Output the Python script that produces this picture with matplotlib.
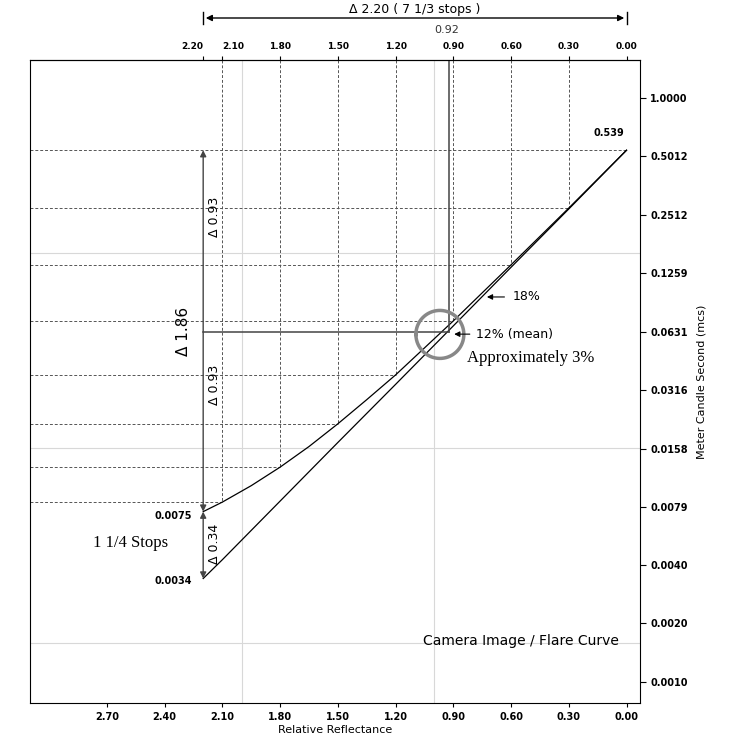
import numpy as np
import matplotlib
matplotlib.use("Agg")
import matplotlib.pyplot as plt

# data
flare_density = [0.0, 0.30, 0.60, 0.90, 1.05, 1.20, 1.35, 1.50, 1.65, 1.80, 1.95, 2.10, 2.20]
flare_mcs = [0.539, 0.272, 0.139, 0.0716, 0.0520, 0.0378, 0.0282, 0.0212, 0.0162, 0.0127, 0.0102, 0.0084, 0.0075]
image_density = [0.0, 0.30, 0.60, 0.90, 1.20, 1.50, 1.80, 2.10, 2.20]
image_mcs = [0.539, 0.269, 0.135, 0.0675, 0.0338, 0.0170, 0.0085, 0.00425, 0.0034]
bottom_ticks = [2.70, 2.40, 2.10, 1.80, 1.50, 1.20, 0.90, 0.60, 0.30, 0.00]
top_ticks = [2.20, 2.10, 1.80, 1.50, 1.20, 0.90, 0.60, 0.30, 0.00]
guide_density = [0.0, 0.30, 0.60, 0.90, 1.20, 1.50, 1.80, 2.10]
guide_mcs = [0.539, 0.272, 0.139, 0.0716, 0.0378, 0.0212, 0.0127, 0.0084]
right_ticks = [1.0, 0.5012, 0.2512, 0.1259, 0.0631, 0.0316, 0.0158, 0.0079, 0.0040, 0.0020, 0.0010]
mean_density, mean_mcs = 0.92, 0.0631
pt18_density, pt18_mcs = 0.74, 0.095

fig = plt.figure(figsize=(7.41, 7.41), dpi=100)
ax = fig.add_axes([30/741, 38/741, 610/741, 643/741])
ax.set_yscale('log')
ax.set_xlim(3.10, -0.07)
ax.set_ylim(10**-3.108, 10**0.195)

for xv in [2.0, 1.0]:
    ax.axvline(xv, color='#d8d8d8', lw=0.8, zorder=0)
for yv in [10**-0.796, 10**-1.8, 10**-2.8]:
    ax.axhline(yv, color='#d8d8d8', lw=0.8, zorder=0)

ytop = 10**0.195
for d, m in zip(guide_density, guide_mcs):
    ax.plot([3.10, d], [m, m], ls=(0, (3, 2)), color='#555555', lw=0.7)
    if d > 0:
        ax.plot([d, d], [ytop, m], ls=(0, (3, 2)), color='#555555', lw=0.7)

ax.plot(flare_density, flare_mcs, color='black', lw=0.9)
ax.plot(image_density, image_mcs, color='black', lw=0.9)

ax.plot([mean_density, mean_density], [ytop, mean_mcs], color='#444444', lw=1.1)
ax.plot([2.2, mean_density], [mean_mcs, mean_mcs], color='#444444', lw=1.1)
th = np.linspace(0, 2*np.pi, 200)
cx, cy = 0.97, np.log10(0.0610)
r = 24/192.6
ax.plot(cx + r*np.cos(th), 10**(cy + (24/194.7)*np.sin(th)), color='#888888', lw=2.5)

ax.annotate('', xy=(pt18_density, pt18_mcs), xytext=(0.62, pt18_mcs),
            arrowprops=dict(arrowstyle='-|>', color='black', lw=0.8, mutation_scale=8))
ax.text(0.59, pt18_mcs, '18%', fontsize=9, va='center')
ax.annotate('', xy=(mean_density-0.01, mean_mcs*0.97), xytext=(0.80, mean_mcs*0.97),
            arrowprops=dict(arrowstyle='-|>', color='black', lw=0.8, mutation_scale=8))
ax.text(0.78, mean_mcs*0.97, '12% (mean)', fontsize=9, va='center')
ax.text(0.83, 0.046, 'Approximately 3%', fontsize=12, family='Liberation Serif', va='center')

ap = dict(arrowstyle='<|-|>', color='#444444', lw=1.0, mutation_scale=9, shrinkA=0, shrinkB=0)
ax.annotate('', xy=(2.2, 0.539), xytext=(2.2, 0.0075), arrowprops=ap)
ax.annotate('', xy=(2.2, 0.0075), xytext=(2.2, 0.0034), arrowprops=ap)
ax.text(2.30, 0.063, 'Δ 1.86', rotation=90, fontsize=11, ha='center', va='center')
ax.text(2.14, 0.245, 'Δ 0.93', rotation=90, fontsize=9, ha='center', va='center')
ax.text(2.14, 0.0336, 'Δ 0.93', rotation=90, fontsize=9, ha='center', va='center')
ax.text(2.14, 0.0051, 'Δ 0.34', rotation=90, fontsize=9, ha='center', va='center')
ax.text(2.26, 0.0071, '0.0075', fontsize=7, fontweight='bold', ha='right', va='center')
ax.text(2.26, 0.0033, '0.0034', fontsize=7, fontweight='bold', ha='right', va='center')
ax.text(0.01, 0.66, '0.539', fontsize=7, fontweight='bold', ha='right', va='center')
ax.text(2.58, 0.0052, '1 1/4 Stops', fontsize=12, family='Liberation Serif', ha='center', va='center')
ax.text(0.55, 0.00163, 'Camera Image / Flare Curve', fontsize=10, ha='center', va='center')

ax.set_xticks(bottom_ticks)
ax.set_xticklabels([f'{t:.2f}' for t in bottom_ticks], fontsize=7, fontweight='bold')
ax.set_xlabel('Relative Reflectance', fontsize=8, labelpad=2)
ax.yaxis.tick_right()
ax.yaxis.set_label_position('right')
ax.set_yticks(right_ticks)
ax.set_yticklabels([f'{t:.4f}' for t in right_ticks], fontsize=7, fontweight='bold')
ax.minorticks_off()
ax.set_ylabel('Meter Candle Second (mcs)', fontsize=8, labelpad=6)
ax.tick_params(axis='x', length=3)
ax.tick_params(axis='y', length=4)

sec = ax.secondary_xaxis('top')
sec.set_xticks(top_ticks)
sec.set_xticklabels([f'{t:.2f}' for t in top_ticks], fontsize=6.5, fontweight='bold')
sec.tick_params(length=3)
lbls = sec.get_xticklabels()
lbls[0].set_horizontalalignment('right')
lbls[1].set_horizontalalignment('left')
fig.text(447/741, 1-30/741, '0.92', fontsize=8, ha='center', va='center', color='#333333')

fig.patches.append(matplotlib.patches.FancyArrowPatch((203/741, 1-18/741), (627/741, 1-18/741),
    transform=fig.transFigure, arrowstyle='<|-|>', mutation_scale=9, color='black', lw=1.0))
for xp in [203, 627]:
    fig.lines.append(matplotlib.lines.Line2D([xp/741, xp/741], [1-12/741, 1-24/741], transform=fig.transFigure, color='black', lw=1))
fig.text(415/741, 1-10/741, 'Δ 2.20 ( 7 1/3 stops )', fontsize=9, ha='center', va='center')

fig.savefig('out.png', dpi=100)
